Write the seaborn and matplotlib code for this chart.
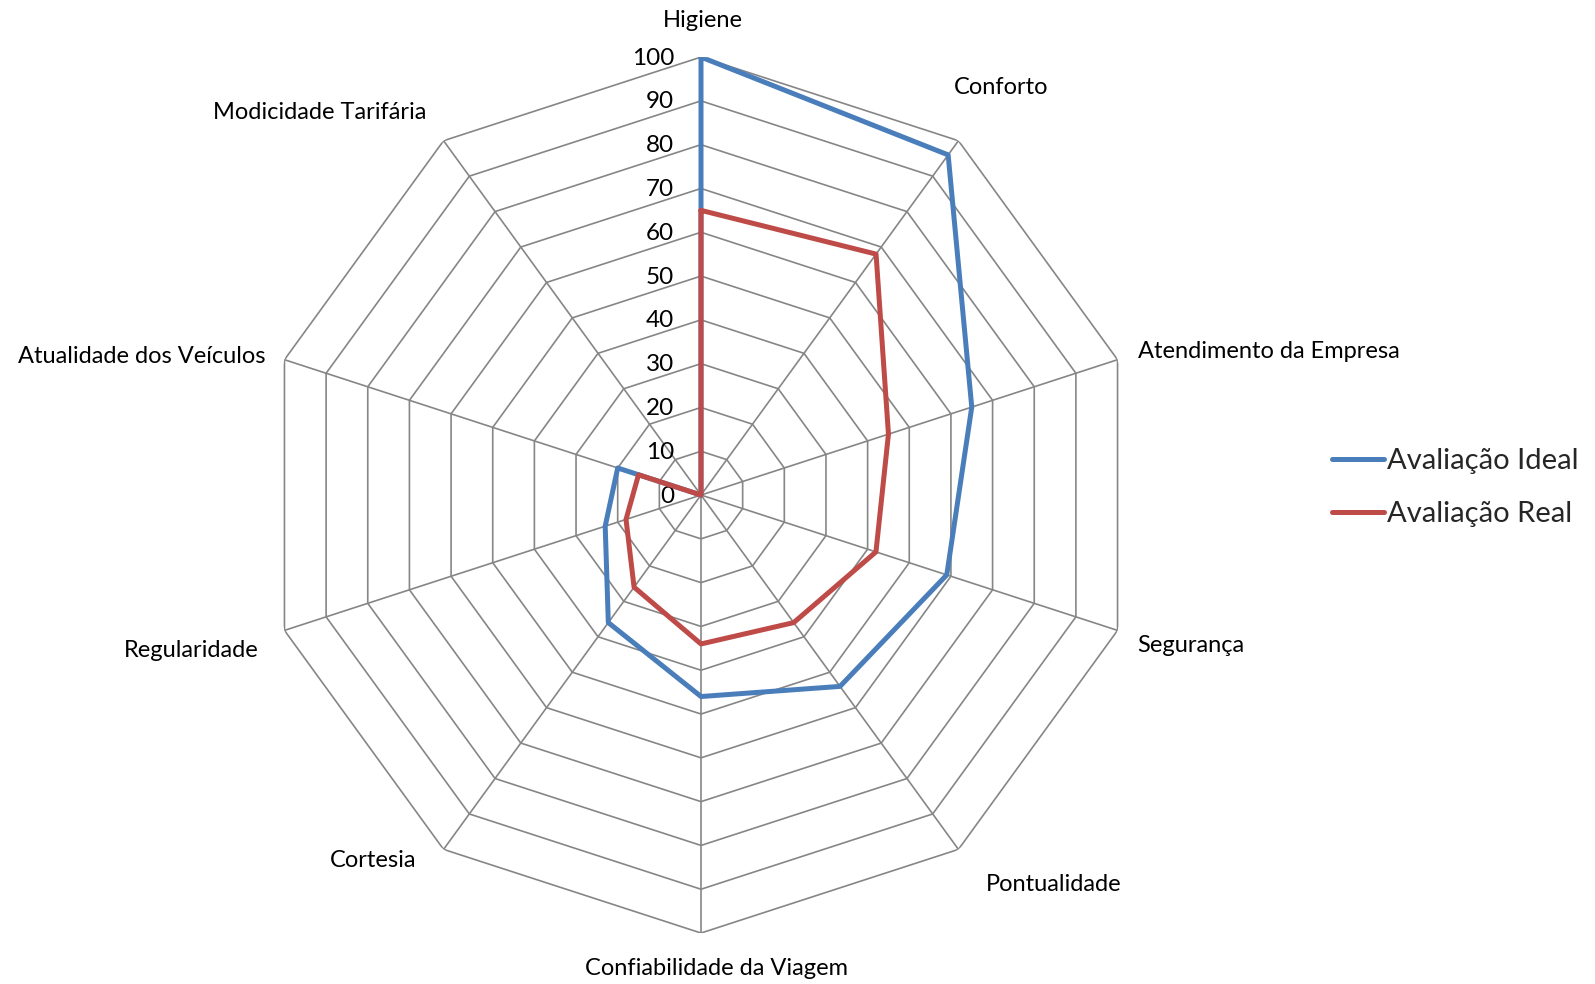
import numpy as np
import matplotlib
matplotlib.use("Agg")
import matplotlib.pyplot as plt
import seaborn as sns

categories = ["Higiene", "Conforto", "Atendimento da Empresa", "Segurança",
              "Pontualidade", "Confiabilidade da Viagem", "Cortesia",
              "Regularidade", "Atualidade dos Veículos", "Modicidade Tarifária"]
ideal = [100, 96, 65, 59, 54, 46, 36, 23, 20, 0]
real = [65, 68, 45, 42, 36, 34, 26, 18, 15, 0]
ticks = [0, 10, 20, 30, 40, 50, 60, 70, 80, 90, 100]

sns.set_style("white")
plt.rcParams["font.family"] = ["Lato", "DejaVu Sans"]

n = len(categories)
theta = np.linspace(0, 2 * np.pi, n, endpoint=False)
theta_c = np.append(theta, theta[0] + 2 * np.pi)

fig = plt.figure(figsize=(15.95, 9.84), dpi=100)
ax = fig.add_axes([0.1649, 0.0518, 0.5492, 0.8902], projection="polar")
ax.set_theta_zero_location("N")
ax.set_theta_direction(-1)
ax.set_ylim(0, 100)
ax.grid(False)
ax.spines["polar"].set_visible(False)
ax.set_xticks([])
ax.set_yticks([])

grid_col = "#868686"
for t in ticks[1:]:
    ax.plot(theta_c, [t] * (n + 1), color=grid_col, lw=1.2, zorder=1)
for a in theta:
    ax.plot([a, a], [0, 100], color=grid_col, lw=1.2, zorder=1)

sns.lineplot(x=theta_c, y=ideal + ideal[:1], ax=ax, sort=False, estimator=None,
             color="#4A7EBB", lw=3.6, label="Avaliação Ideal", zorder=3)
sns.lineplot(x=theta_c, y=real + real[:1], ax=ax, sort=False, estimator=None,
             color="#BE4B48", lw=3.6, label="Avaliação Real", zorder=4)
ax.set_ylim(0, 100)

# value labels along the vertical axis
for t in ticks:
    ax.annotate(str(t), xy=(0, t), xytext=(-27, -1), textcoords="offset pixels",
                ha="right", va="center", fontsize=17.5, color="black")

# category labels: pixel offsets from the outer vertex
label_offsets = [(2, 37, "center"), (-5, 53, "left"), (20, 8, "left"),
                 (20, -15, "left"), (27, -35, "left"), (15, -35, "center"),
                 (-27, -11, "right"), (-26, -20, "right"), (-19, 3, "right"),
                 (-17, 28, "right")]
for a, name, (dx, dy, ha) in zip(theta, categories, label_offsets):
    ax.annotate(name, xy=(a, 100), xytext=(dx, dy), textcoords="offset pixels",
                ha=ha, va="center", fontsize=17, color="black",
                annotation_clip=False)

ax.legend(loc="center left", bbox_to_anchor=(0.835, 0.5045),
          bbox_transform=fig.transFigure, frameon=False, fontsize=21,
          handlelength=1.8, handletextpad=0.1, labelspacing=0.93,
          borderpad=0, borderaxespad=0)

fig.savefig("out.png", dpi=100, facecolor="white")
